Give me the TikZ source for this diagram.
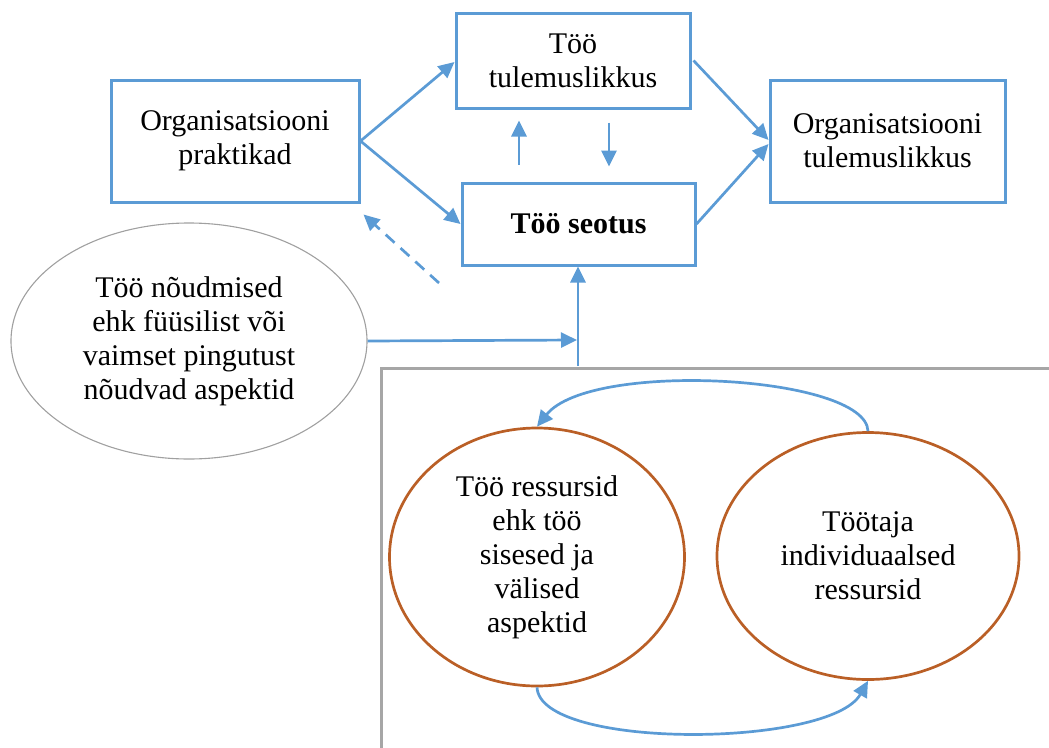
\documentclass[tikz,border=0pt]{standalone}
\usepackage{fontspec}
\setmainfont{Liberation Serif}
\usetikzlibrary{arrows.meta,calc,shapes.geometric}
\definecolor{lineblue}{HTML}{5B9BD5}
\definecolor{rustbrown}{HTML}{BA5F26}
\definecolor{framegray}{HTML}{A6A6A6}
\definecolor{ovalgray}{HTML}{A0A0A0}
\tikzset{
  txt/.style={align=center,font=\fontsize{30}{34}\selectfont,text=black},
  bluebox/.style={txt,draw=lineblue,line width=3pt,rectangle,inner sep=0pt},
  grayoval/.style={txt,draw=ovalgray,line width=1.1pt,ellipse,inner sep=0pt},
  rustoval/.style={txt,draw=rustbrown,line width=2.7pt,ellipse,inner sep=0pt},
  arr/.style={draw=lineblue,line width=2.7pt,-{Triangle[length=16pt,width=15pt]}},
  dashline/.style={dash pattern=on 12pt off 8pt},
  frameline/.style={draw=framegray,line width=3pt}
}
\begin{document}
\begin{tikzpicture}[x=1pt,y=-1pt]
\useasboundingbox (0,0) rectangle (1049,747);

% boxes of the upper row
\node[bluebox,minimum width=248pt,minimum height=122pt] (P) at (235,141) {Organisatsiooni\\praktikad};
\node[bluebox,minimum width=234pt,minimum height=95pt] (T) at (573,60.5) {Töö\\tulemuslikkus};
\node[bluebox,minimum width=233pt,minimum height=82pt] (S) at (578.5,224) {\bfseries Töö seotus};
\node[bluebox,minimum width=235pt,minimum height=122pt] (R) at (887.5,141) {Organisatsiooni\\tulemuslikkus};

% demands oval
\node[grayoval,minimum width=356pt,minimum height=236pt] (E) at (189,341)
  {Töö nõudmised\\ehk füüsilist või\\vaimset pingutust\\nõudvad aspektid};

% resources frame (open to the right and below)
\coordinate (FTR) at (1052,368);
\coordinate (FTL) at (381,368);
\coordinate (FBL) at (381,750);
\draw[frameline] (FTR) -- (FTL) -- (FBL);

% resource ovals
\node[rustoval,minimum width=295pt,minimum height=258pt] (C1) at (537,557)
  {Töö ressursid\\ehk töö\\sisesed ja\\välised\\aspektid};
\node[rustoval,minimum width=302pt,minimum height=247pt] (C2) at (868,556)
  {Töötaja\\individuaalsed\\ressursid};

% arrows between the boxes
\draw[arr] (P.east) -- ($(T.west)+(0,1.5)$);
\draw[arr] (P.east) -- (S.west);
\draw[arr] ($(T.east)+(2,0)$) -- ($(R.west)+(0,-1)$);
\draw[arr] (S.east) -- ($(R.west)+(0,3)$);

\coordinate (upx) at (519,0);
\coordinate (dnx) at (609,0);
\draw[arr] ($(upx|-S.north)+(0,-17)$) -- ($(upx|-T.south)+(0,11)$);
\draw[arr] ($(dnx|-T.south)+(0,13)$) -- ($(dnx|-S.north)+(0,-15)$);

% dashed feedback arrow
\coordinate (dshstart) at (439,283);
\draw[arr,dashline] (dshstart) -- ($(P.south east)+(3,11)$);

% demands and resources feeding engagement
\coordinate (J) at (577,340);
\coordinate (G) at (578,366);
\draw[arr] (E.east) -- (J);
\draw[arr] (G) -- (G|-S.south);

% reciprocal arrows between the resource ovals
\draw[arr] (C2.north) .. controls (866,375) and (590,360) .. (C1.north);
\draw[arr] (C1.south) .. controls (540,750) and (830,748) .. (C2.south);
\end{tikzpicture}
\end{document}
